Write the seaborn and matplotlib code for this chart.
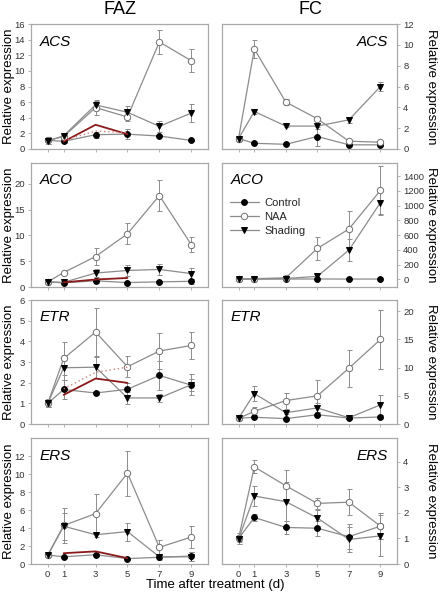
import matplotlib
matplotlib.use("Agg")
import matplotlib.pyplot as plt
import seaborn as sns
import pandas as pd
from matplotlib.lines import Line2D

sns.set_theme(style="white")
plt.rcParams['font.family'] = ['Liberation Sans', 'DejaVu Sans']

days = [0, 1, 3, 5, 7, 9]
red_days = [1, 3, 5]
series_names = ["Control", "NAA", "Shading"]
day_ticks = ["0", "1", "3", "5", "7", "9"]

# ---- FAZ ACS ----
faz_acs_control = [1.1, 0.98, 1.83, 1.9, 1.66, 1.1]
faz_acs_control_err = [0.5, 0.15, 0.4, 0.6, 0.15, 0.1]
faz_acs_naa = [1.1, 1.6, 5.3, 4.1, 13.7, 11.3]
faz_acs_naa_err = [0.4, 0.2, 0.9, 0.5, 1.5, 1.5]
faz_acs_shading = [1.0, 1.7, 5.65, 4.7, 2.9, 4.6]
faz_acs_shading_err = [0.3, 0.15, 0.6, 0.8, 0.7, 1.2]
faz_acs_red = [0.95, 3.1, 1.9]
faz_acs_red_dot = [1.1, 2.3, 2.1]

# ---- FC ACS ----
fc_acs_control = [1.0, 0.55, 0.45, 1.2, 0.4, 0.4]
fc_acs_control_err = [0.1, 0.1, 0.1, 0.9, 0.1, 0.1]
fc_acs_naa = [1.0, 9.6, 4.5, 2.9, 0.75, 0.65]
fc_acs_naa_err = [0.1, 0.9, 0.3, 0.2, 0.1, 0.1]
fc_acs_shading = [1.0, 3.6, 2.2, 2.2, 2.8, 6.0]
fc_acs_shading_err = [0.1, 0.2, 0.1, 0.3, 0.3, 0.4]

# ---- FAZ ACO ----
faz_aco_control = [1.0, 0.8, 1.2, 0.85, 1.0, 1.1]
faz_aco_control_err = [0.2, 0.2, 0.5, 0.2, 0.2, 0.5]
faz_aco_naa = [1.0, 2.8, 5.9, 10.3, 17.7, 8.2]
faz_aco_naa_err = [0.3, 0.3, 1.7, 2.0, 3.0, 1.5]
faz_aco_shading = [1.0, 0.9, 2.7, 3.2, 3.4, 2.6]
faz_aco_shading_err = [0.2, 0.2, 0.8, 1.0, 1.1, 1.0]
faz_aco_red = [0.9, 1.45, 1.75]

# ---- FC ACO ----
fc_aco_control = [1, 2, 3, 4, 3, 3]
fc_aco_control_err = [1, 1, 2, 2, 2, 2]
fc_aco_naa = [1, 8, 20, 419, 683, 1207]
fc_aco_naa_err = [1, 3, 10, 160, 240, 330]
fc_aco_shading = [1, 5, 10, 40, 396, 1043]
fc_aco_shading_err = [1, 2, 5, 25, 150, 150]

# ---- FAZ ETR ----
faz_etr_control = [1.0, 1.67, 1.5, 1.68, 2.35, 1.88]
faz_etr_control_err = [0.2, 0.45, 0.1, 0.3, 0.7, 0.3]
faz_etr_naa = [1.0, 3.17, 4.45, 2.77, 3.53, 3.8]
faz_etr_naa_err = [0.2, 0.8, 1.15, 0.5, 0.85, 0.65]
faz_etr_shading = [1.0, 2.72, 2.75, 1.26, 1.26, 1.9]
faz_etr_shading_err = [0.2, 0.6, 0.5, 0.3, 0.2, 0.5]
faz_etr_red = [1.41, 2.2, 1.99]
faz_etr_red_dot = [1.7, 2.5, 2.75]

# ---- FC ETR ----
fc_etr_control = [1.0, 1.2, 0.95, 1.65, 1.05, 1.25]
fc_etr_control_err = [0.1, 0.2, 0.2, 0.3, 0.2, 0.4]
fc_etr_naa = [1.0, 2.25, 4.15, 5.0, 9.9, 15.0]
fc_etr_naa_err = [0.1, 0.7, 1.4, 2.8, 3.3, 5.3]
fc_etr_shading = [1.0, 5.4, 2.0, 2.85, 1.1, 3.4]
fc_etr_shading_err = [0.1, 1.4, 0.3, 0.8, 0.2, 1.8]

# ---- FAZ ERS ----
faz_ers_control = [1.0, 0.8, 1.03, 0.6, 0.75, 0.88]
faz_ers_control_err = [0.1, 0.1, 0.1, 0.1, 0.2, 0.5]
faz_ers_naa = [1.0, 4.28, 5.6, 10.1, 1.85, 3.0]
faz_ers_naa_err = [0.1, 1.9, 2.2, 2.5, 0.8, 1.2]
faz_ers_shading = [0.95, 4.2, 3.25, 3.6, 0.8, 0.8]
faz_ers_shading_err = [0.1, 1.5, 0.3, 1.0, 0.3, 0.5]
faz_ers_red = [1.2, 1.4, 0.65]

# ---- FC ERS ----
fc_ers_control = [1.0, 1.82, 1.43, 1.4, 1.07, 1.48]
fc_ers_control_err = [0.2, 0.15, 0.25, 0.3, 0.5, 0.5]
fc_ers_naa = [1.0, 3.8, 3.06, 2.37, 2.42, 1.48]
fc_ers_naa_err = [0.1, 0.25, 0.6, 0.2, 0.5, 0.5]
fc_ers_shading = [0.98, 2.66, 2.44, 1.8, 0.96, 1.1]
fc_ers_shading_err = [0.1, 0.4, 0.75, 0.3, 0.5, 0.8]

LINE = "#8c8c8c"
SPINE = "#a8a8a8"
TXT = "#333333"
styles = {
    "Control": dict(marker="o", mfc="black", mec="black", ms=4.2),
    "NAA": dict(marker="o", mfc="white", mec="#707070", ms=4.6),
    "Shading": dict(marker="v", mfc="black", mec="black", ms=4.8),
}

fig = plt.figure(figsize=(4.41, 5.95), dpi=100)

lefts = [31 / 441, 222 / 441]
widths = [177 / 441, 175 / 441]
tops = [24, 163, 300, 438]
bots = [149, 287, 424, 564]


def panel(ax, vals, errs, yticks, ylim, gene, gene_right, right_side):
    for name, v, e in zip(series_names, vals, errs):
        st = styles[name]
        df = pd.DataFrame({"day": days, "val": v})
        ax.errorbar(days, v, yerr=e, fmt="none", ecolor=LINE, elinewidth=0.7,
                    capsize=1.8, capthick=0.7, zorder=2)
        sns.lineplot(data=df, x="day", y="val", ax=ax, color=LINE, lw=0.9,
                     marker=st["marker"], markerfacecolor=st["mfc"],
                     markeredgecolor=st["mec"], markersize=st["ms"],
                     markeredgewidth=0.7, zorder=3, legend=False)
    ax.set_xlim(-1.05, 10.05)
    ax.set_ylim(*ylim)
    ax.set_xticks(days)
    ax.set_yticks(yticks)
    for s in ax.spines.values():
        s.set_color(SPINE)
        s.set_linewidth(0.9)
    ax.tick_params(axis="both", direction="out", length=2.5, width=0.6,
                   color=SPINE, labelsize=6.8, labelcolor=TXT, pad=2)
    if right_side:
        ax.yaxis.tick_right()
        ax.tick_params(axis="y", left=False, right=True)
    else:
        ax.tick_params(axis="y", left=True, right=False)
    ax.tick_params(axis="x", bottom=True, top=False)
    if gene_right:
        ax.text(0.95, 0.86, gene, transform=ax.transAxes, ha="right",
                va="center", fontsize=11, style="italic", color="black")
    else:
        ax.text(0.05, 0.86, gene, transform=ax.transAxes, ha="left",
                va="center", fontsize=11, style="italic", color="black")


def red(ax, vals, dotted=None):
    df = pd.DataFrame({"day": red_days, "val": vals})
    sns.lineplot(data=df, x="day", y="val", ax=ax, color="#8b1a1a", lw=1.3,
                 zorder=4, legend=False)
    if dotted is not None:
        df2 = pd.DataFrame({"day": red_days, "val": dotted})
        sns.lineplot(data=df2, x="day", y="val", ax=ax, color="#d08080",
                     lw=1.0, ls=(0, (1, 2)), zorder=4, legend=False)


panels = [
    (0, 0, [faz_acs_control, faz_acs_naa, faz_acs_shading],
     [faz_acs_control_err, faz_acs_naa_err, faz_acs_shading_err],
     list(range(0, 17, 2)), (0, 16), "ACS", False),
    (0, 1, [fc_acs_control, fc_acs_naa, fc_acs_shading],
     [fc_acs_control_err, fc_acs_naa_err, fc_acs_shading_err],
     list(range(0, 13, 2)), (0, 12), "ACS", True),
    (1, 0, [faz_aco_control, faz_aco_naa, faz_aco_shading],
     [faz_aco_control_err, faz_aco_naa_err, faz_aco_shading_err],
     list(range(0, 21, 5)), (0, 24), "ACO", False),
    (1, 1, [fc_aco_control, fc_aco_naa, fc_aco_shading],
     [fc_aco_control_err, fc_aco_naa_err, fc_aco_shading_err],
     list(range(0, 1401, 200)), (-105, 1580), "ACO", False),
    (2, 0, [faz_etr_control, faz_etr_naa, faz_etr_shading],
     [faz_etr_control_err, faz_etr_naa_err, faz_etr_shading_err],
     list(range(0, 7)), (0, 6), "ETR", False),
    (2, 1, [fc_etr_control, fc_etr_naa, fc_etr_shading],
     [fc_etr_control_err, fc_etr_naa_err, fc_etr_shading_err],
     list(range(0, 21, 5)), (0, 22), "ETR", False),
    (3, 0, [faz_ers_control, faz_ers_naa, faz_ers_shading],
     [faz_ers_control_err, faz_ers_naa_err, faz_ers_shading_err],
     list(range(0, 13, 2)), (0, 14), "ERS", False),
    (3, 1, [fc_ers_control, fc_ers_naa, fc_ers_shading],
     [fc_ers_control_err, fc_ers_naa_err, fc_ers_shading_err],
     list(range(0, 5)), (0, 4.93), "ERS", True),
]

axes = {}
for row, col, vals, errs, yt, yl, gene, gr in panels:
    b = 1 - bots[row] / 595
    h = (bots[row] - tops[row]) / 595
    ax = fig.add_axes([lefts[col], b, widths[col], h])
    panel(ax, vals, errs, yt, yl, gene, gr, right_side=(col == 1))
    if row == 3:
        ax.set_xticklabels(day_ticks)
    else:
        ax.set_xticklabels([])
    axes[(row, col)] = ax

red(axes[(0, 0)], faz_acs_red, faz_acs_red_dot)
red(axes[(1, 0)], faz_aco_red)
red(axes[(2, 0)], faz_etr_red, faz_etr_red_dot)
red(axes[(3, 0)], faz_ers_red)

for ax in axes.values():
    ax.set_xlabel("")
    ax.set_ylabel("")

# legend in FC ACO panel
handles = []
for name in series_names:
    st = styles[name]
    handles.append(Line2D([0], [0], color=LINE, lw=0.9, marker=st["marker"],
                          markerfacecolor=st["mfc"], markeredgecolor=st["mec"],
                          markersize=st["ms"], markeredgewidth=0.7))
axes[(1, 1)].legend(handles, series_names, loc="upper left",
                    bbox_to_anchor=(0.0, 0.78), frameon=False, fontsize=8,
                    handlelength=2.6, labelspacing=0.35, handletextpad=0.5,
                    borderaxespad=0.3)

# y labels
for row in range(4):
    yc = 1 - (tops[row] + bots[row]) / 2 / 595
    fig.text(9 / 441, yc, "Relative expression", rotation=90, ha="center",
             va="center", fontsize=9.5, color="black")
    fig.text(431 / 441, yc, "Relative expression", rotation=270, ha="center",
             va="center", fontsize=9.5, color="black")

fig.text(120 / 441, 1 - 10 / 595, "FAZ", ha="center", va="center",
         fontsize=13, color="black")
fig.text(310 / 441, 1 - 10 / 595, "FC", ha="center", va="center",
         fontsize=13, color="black")
fig.text(215 / 441, 1 - 585 / 595, "Time after treatment (d)", ha="center",
         va="center", fontsize=9.5, color="black")

fig.savefig("out.png", dpi=100)
